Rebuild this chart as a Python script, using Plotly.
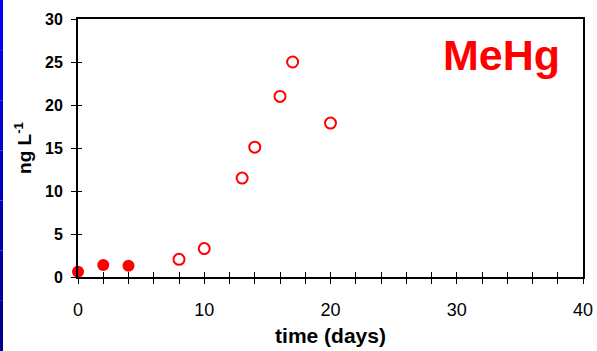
import plotly.graph_objects as go

# Data
filled_days = [0, 2, 4]
filled_vals = [0.6, 1.4, 1.3]
open_days = [8, 10, 13, 14, 16, 17, 20]
open_vals = [2.05, 3.3, 11.5, 15.1, 21.0, 25.0, 17.9]

x_ticks = [0, 10, 20, 30, 40]
y_ticks = [0, 5, 10, 15, 20, 25, 30]

RED = "#ff0000"
FONT = "Liberation Sans, Arial, sans-serif"

fig = go.Figure()
fig.add_trace(go.Scatter(
    x=filled_days, y=filled_vals, mode="markers",
    marker=dict(color=RED, size=12, line=dict(color=RED, width=0)),
    showlegend=False, cliponaxis=False))
fig.add_trace(go.Scatter(
    x=open_days, y=open_vals, mode="markers",
    marker=dict(symbol="circle-open", color=RED, size=11, line=dict(color=RED, width=2)),
    showlegend=False, cliponaxis=False))

axis_common = dict(showgrid=False, zeroline=False, linecolor="black", linewidth=2,
                   tickcolor="black", tickwidth=1.3, ticklen=5, automargin=False)

fig.update_layout(
    width=597, height=351,
    margin=dict(l=78, r=14, t=19, b=74),
    paper_bgcolor="white", plot_bgcolor="white",
    font=dict(family=FONT, color="black"),
    xaxis=dict(range=[0, 40], tickvals=x_ticks, ticktext=[str(v) for v in x_ticks],
               ticks="outside", showline=True, mirror=True, ticklabelstandoff=10,
               minor=dict(dtick=2, ticks="outside", ticklen=5, tickcolor="black", tickwidth=1.3),
               tickfont=dict(size=18, family=FONT),
               title=dict(text="<b>time (days)</b>", font=dict(size=21, family=FONT), standoff=10),
               **axis_common),
    yaxis=dict(range=[0, 30], tickvals=y_ticks, ticktext=[str(v) for v in y_ticks],
               ticks="outside", showline=True, mirror=True, ticklabelstandoff=5,
               tickfont=dict(size=16, family=FONT, weight="bold"),
               title=dict(text="<b>ng L<sup>-1</sup></b>", font=dict(size=19, family=FONT), standoff=8),
               **axis_common),
    xaxis2=dict(range=[0, 40], overlaying="x", tickvals=x_ticks, showticklabels=False,
                ticks="inside", showline=False, showgrid=False, zeroline=False, automargin=False,
                minor=dict(dtick=2, ticks="inside", ticklen=5, tickcolor="black", tickwidth=1.3),
                tickcolor="black", tickwidth=1.3, ticklen=5),
    yaxis2=dict(range=[0, 30], overlaying="y", tickvals=y_ticks, showticklabels=False,
                ticks="inside", showline=False, showgrid=False, zeroline=False, automargin=False,
                tickcolor="black", tickwidth=1.3, ticklen=4),
)

# invisible trace so overlay axes render
fig.add_trace(go.Scatter(x=[None], y=[None], xaxis="x2", yaxis="y2", showlegend=False, hoverinfo="skip"))

fig.add_annotation(text="<b>MeHg</b>", xref="paper", yref="paper", x=0.958, y=0.86,
                   xanchor="right", yanchor="middle", showarrow=False,
                   font=dict(size=43, color=RED, family=FONT))

# left blue border strip (gradient approximated by segments)
blues = ["#0000f0", "#0000e0", "#0000d0", "#0000c0", "#0000b0", "#0000a0", "#000090"]
n = len(blues)
y_lo, y_hi = -74 / 258, 1 + 19 / 258
for i, c in enumerate(blues):
    top = y_hi - (y_hi - y_lo) * i / n
    bot = y_hi - (y_hi - y_lo) * (i + 1) / n
    fig.add_shape(type="rect", xref="paper", yref="paper", x0=-78 / 505, x1=-75 / 505,
                  y0=bot, y1=top, fillcolor=c, line=dict(width=0), layer="above")

fig.write_html("out.html", config={"displayModeBar": False},
               post_script="document.body.style.margin='0';document.body.style.padding='0';")
